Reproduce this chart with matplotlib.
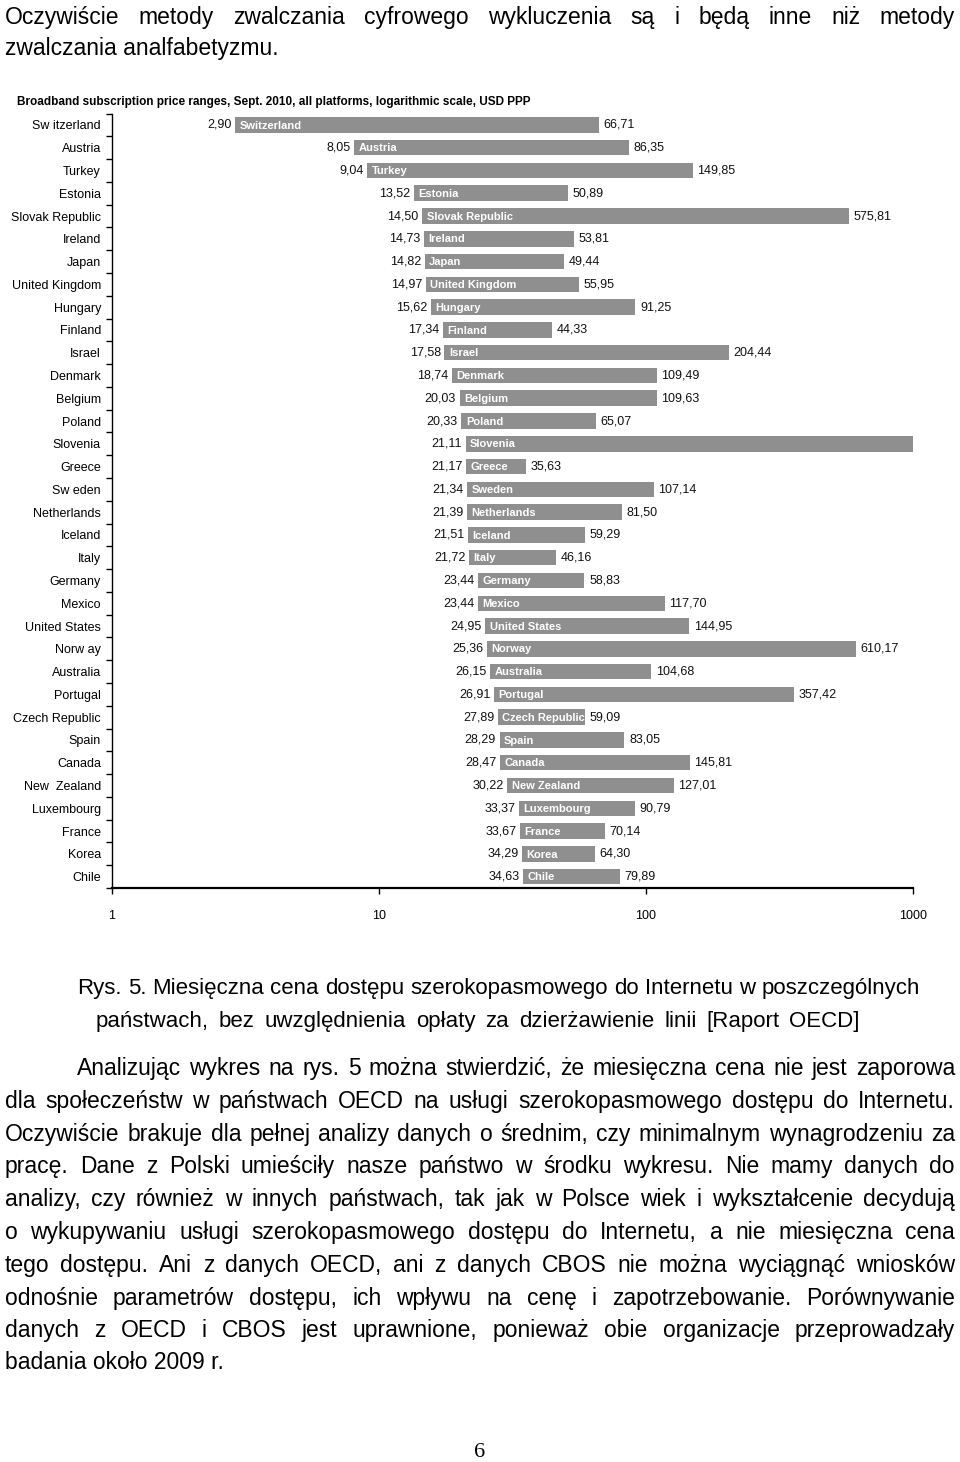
import matplotlib
matplotlib.use('Agg')
import matplotlib.pyplot as plt
import numpy as np

# datos del gráfico (USD PPP, precio mínimo y máximo)
countries = ['Switzerland', 'Austria', 'Turkey', 'Estonia', 'Slovak Republic', 'Ireland',
             'Japan', 'United Kingdom', 'Hungary', 'Finland', 'Israel', 'Denmark', 'Belgium',
             'Poland', 'Slovenia', 'Greece', 'Sweden', 'Netherlands', 'Iceland', 'Italy',
             'Germany', 'Mexico', 'United States', 'Norway', 'Australia', 'Portugal',
             'Czech Republic', 'Spain', 'Canada', 'New Zealand', 'Luxembourg', 'France',
             'Korea', 'Chile']
axis_labels = ['Sw itzerland', 'Austria', 'Turkey', 'Estonia', 'Slovak Republic', 'Ireland',
               'Japan', 'United Kingdom', 'Hungary', 'Finland', 'Israel', 'Denmark', 'Belgium',
               'Poland', 'Slovenia', 'Greece', 'Sw eden', 'Netherlands', 'Iceland', 'Italy',
               'Germany', 'Mexico', 'United States', 'Norw ay', 'Australia', 'Portugal',
               'Czech Republic', 'Spain', 'Canada', 'New  Zealand', 'Luxembourg', 'France',
               'Korea', 'Chile']
min_price = [2.90, 8.05, 9.04, 13.52, 14.50, 14.73, 14.82, 14.97, 15.62, 17.34, 17.58, 18.74,
             20.03, 20.33, 21.11, 21.17, 21.34, 21.39, 21.51, 21.72, 23.44, 23.44, 24.95,
             25.36, 26.15, 26.91, 27.89, 28.29, 28.47, 30.22, 33.37, 33.67, 34.29, 34.63]
# Slovenia: bar runs off the chart (no value printed)
max_price = [66.71, 86.35, 149.85, 50.89, 575.81, 53.81, 49.44, 55.95, 91.25, 44.33, 204.44,
             109.49, 109.63, 65.07, 1000.0, 35.63, 107.14, 81.50, 59.29, 46.16, 58.83, 117.70,
             144.95, 610.17, 104.68, 357.42, 59.09, 83.05, 145.81, 127.01, 90.79, 70.14,
             64.30, 79.89]
x_ticks = [1, 10, 100, 1000]

W, H = 960, 1462
fig = plt.figure(figsize=(W / 100, H / 100), dpi=100)
fig.patch.set_facecolor('white')

NARROW = ['Liberation Sans Narrow', 'Liberation Sans', 'DejaVu Sans']
BODY = ['Liberation Sans Narrow', 'Liberation Sans', 'DejaVu Sans']

def fx(px):
    return px / W

def fy(py):
    return 1 - py / H

# ---- gráfico ----
ax = fig.add_axes([fx(112), fy(888), fx(913) - fx(112), fy(113.5) - fy(888)])
ax.set_xscale('log')
ax.set_xlim(1, 1000)
n = len(countries)
ax.set_ylim(n - 0.5, -0.5)
y = np.arange(n)
widths = np.array(max_price) - np.array(min_price)
ax.barh(y, widths, left=min_price, height=0.68, color='#8f8f8f', edgecolor='none')

for i in range(n):
    lo, hi = min_price[i], max_price[i]
    ax.text(lo * 0.97, i, f'{lo:.2f}'.replace('.', ','), ha='right', va='center',
            fontsize=9, family=NARROW, color='#111111')
    ax.text(lo * 1.04, i + 0.03, countries[i], ha='left', va='center', fontsize=8,
            family=['Liberation Sans', 'DejaVu Sans'], color='white', fontweight='bold')
    if hi < 1000:
        ax.text(hi * 1.04, i, f'{hi:.2f}'.replace('.', ','), ha='left', va='center',
                fontsize=9, family=NARROW, color='#111111')

ax.set_yticks(y)
ax.set_yticklabels(axis_labels, family=NARROW, fontsize=9)
ax.set_yticks(np.arange(n + 1) - 0.5, minor=True)
ax.tick_params(axis='y', which='major', length=0, pad=8)
ax.tick_params(axis='y', which='minor', length=4, width=1, direction='out')
ax.set_xticks(x_ticks)
ax.set_xticklabels([str(t) for t in x_ticks], family=NARROW, fontsize=9)
ax.xaxis.set_minor_locator(matplotlib.ticker.NullLocator())
ax.tick_params(axis='x', which='major', length=4, width=1, direction='out', pad=12)
ax.spines['top'].set_visible(False)
ax.spines['right'].set_visible(False)
ax.spines['bottom'].set_linewidth(1.6)
ax.spines['left'].set_linewidth(1.0)

fig.text(fx(17), fy(102), 'Broadband subscription price ranges, Sept. 2010, all platforms, '
         'logarithmic scale, USD PPP', ha='left', va='center', fontsize=8.5,
         fontweight='bold', family=['Liberation Sans', 'DejaVu Sans'])

# ---- texto del documento ----
renderer = fig.canvas.get_renderer()
BODY_SIZE = 16.5

def line(text, x0, x1, base, justify=True, size=BODY_SIZE):
    if not justify:
        fig.text(fx(x0), fy(base), text, ha='left', va='baseline', fontsize=size, family=BODY)
        return
    words = text.split(' ')
    objs = [fig.text(0, fy(base), w, ha='left', va='baseline', fontsize=size, family=BODY)
            for w in words]
    ws = [o.get_window_extent(renderer).width for o in objs]
    gap = (x1 - x0 - sum(ws)) / (len(words) - 1)
    x = x0
    for o, w in zip(objs, ws):
        o.set_x(fx(x))
        x += w + gap

line('Oczywiście metody zwalczania cyfrowego wykluczenia są i będą inne niż metody', 5, 955, 24)
line('zwalczania analfabetyzmu.', 5, 955, 55, justify=False)

line('Rys. 5. Miesięczna cena dostępu szerokopasmowego do Internetu w poszczególnych', 77, 920, 994,
     size=16)
line('państwach, bez uwzględnienia opłaty za dzierżawienie linii [Raport OECD]', 96, 860, 1027,
     size=16)

para = [
    'Analizując wykres na rys. 5 można stwierdzić, że miesięczna cena nie jest zaporowa',
    'dla społeczeństw w państwach OECD na usługi szerokopasmowego dostępu do Internetu.',
    'Oczywiście brakuje dla pełnej analizy danych o średnim, czy minimalnym wynagrodzeniu za',
    'pracę. Dane z Polski umieściły nasze państwo w środku wykresu. Nie mamy danych do',
    'analizy, czy również w innych państwach, tak jak w Polsce wiek i wykształcenie decydują',
    'o wykupywaniu usługi szerokopasmowego dostępu do Internetu, a nie miesięczna cena',
    'tego dostępu. Ani z danych OECD, ani z danych CBOS nie można wyciągnąć wniosków',
    'odnośnie parametrów dostępu, ich wpływu na cenę i zapotrzebowanie. Porównywanie',
    'danych z OECD i CBOS jest uprawnione, ponieważ obie organizacje przeprowadzały',
    'badania około 2009 r.',
]
bases = [1075, 1108, 1141, 1173, 1206, 1239, 1272, 1305, 1337, 1369]
for k, (txt, b) in enumerate(zip(para, bases)):
    x0 = 77 if k == 0 else 5
    line(txt, x0, 955, b, justify=(k < len(para) - 1))

fig.text(0.5, fy(1457), '6', ha='center', va='baseline', fontsize=16,
         family=['Liberation Serif', 'DejaVu Serif'])

fig.savefig('out.png', dpi=100)
plt.close()
